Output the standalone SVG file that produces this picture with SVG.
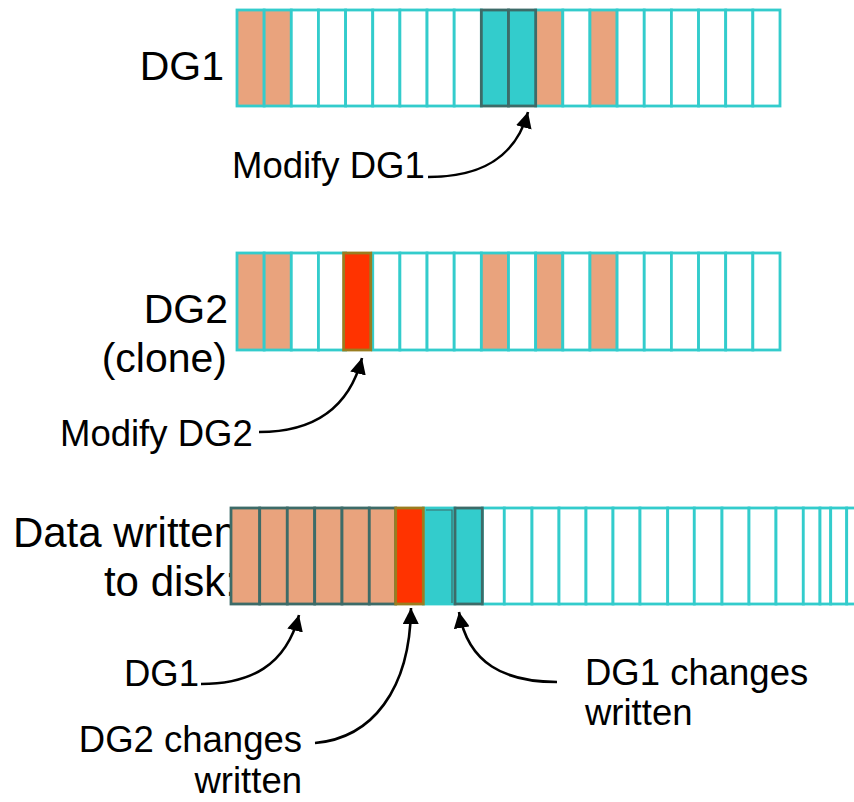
<svg xmlns="http://www.w3.org/2000/svg" width="854" height="802" viewBox="0 0 854 802">
  <style>
    .big { font-family: "Liberation Sans", Arial, sans-serif; font-size: 41px; fill: #000; }
    .lbl { font-family: "Liberation Sans", Arial, sans-serif; font-size: 36.5px; fill: #000; }
    .cell { fill: #ffffff; stroke: #33cccc; stroke-width: 2.8; }
    .old { fill: #e9a37d; stroke: #33cccc; stroke-width: 2.8; }
    .oldw { fill: #e9a37d; stroke: #3d6b68; stroke-width: 2.8; }
    .chg1 { fill: #33cccc; stroke: #3d6b68; stroke-width: 2.8; }
    .chg2 { fill: #ff3300; stroke: #9a7d1f; stroke-width: 2.8; }
    .conn { fill: none; stroke: #000; stroke-width: 2.6; marker-end: url(#head); }
  </style>
  <defs>
    <marker id="head" markerUnits="userSpaceOnUse" markerWidth="18" markerHeight="16" refX="16" refY="8" orient="auto">
      <path d="M0,0 L16,8 L0,16 z" fill="#000"/>
    </marker>
  </defs>

  <!-- row labels -->
  <g id="label-dg1">
    <text class="big" x="224" y="80" text-anchor="end">DG1</text>
  </g>
  <g id="label-dg2">
    <text class="big" x="228" y="323" text-anchor="end">DG2</text>
    <text class="big" x="227" y="372" text-anchor="end">(clone)</text>
  </g>
  <!-- this label sits partly behind the disk bar -->
  <g id="label-disk">
    <text class="big" x="237" y="547" text-anchor="end" style="font-size:42px">Data written</text>
    <text class="big" x="237" y="596" text-anchor="end" style="font-size:42px">to disk:</text>
  </g>

  <!-- DG1 block map -->
  <g id="bar-dg1">
    <rect class="old" x="237" y="10" width="27.15" height="96"/>
    <rect class="old" x="264.15" y="10" width="27.15" height="96"/>
    <rect class="cell" x="291.3" y="10" width="27.15" height="96"/>
    <rect class="cell" x="318.45" y="10" width="27.15" height="96"/>
    <rect class="cell" x="345.6" y="10" width="27.15" height="96"/>
    <rect class="cell" x="372.75" y="10" width="27.15" height="96"/>
    <rect class="cell" x="399.9" y="10" width="27.15" height="96"/>
    <rect class="cell" x="427.05" y="10" width="27.15" height="96"/>
    <rect class="cell" x="454.2" y="10" width="27.15" height="96"/>
    <rect class="old" x="535.65" y="10" width="27.15" height="96"/>
    <rect class="cell" x="562.8" y="10" width="27.15" height="96"/>
    <rect class="old" x="589.95" y="10" width="27.15" height="96"/>
    <rect class="cell" x="617.1" y="10" width="27.15" height="96"/>
    <rect class="cell" x="644.25" y="10" width="27.15" height="96"/>
    <rect class="cell" x="671.4" y="10" width="27.15" height="96"/>
    <rect class="cell" x="698.55" y="10" width="27.15" height="96"/>
    <rect class="cell" x="725.7" y="10" width="27.15" height="96"/>
    <rect class="cell" x="752.85" y="10" width="27.15" height="96"/>
    <rect class="chg1" x="481.35" y="10" width="27.15" height="96"/>
    <rect class="chg1" x="508.5" y="10" width="27.15" height="96"/>
  </g>

  <!-- DG2 (clone) block map -->
  <g id="bar-dg2">
    <rect class="old" x="237" y="253" width="27.15" height="97"/>
    <rect class="old" x="264.15" y="253" width="27.15" height="97"/>
    <rect class="cell" x="291.3" y="253" width="27.15" height="97"/>
    <rect class="cell" x="318.45" y="253" width="27.15" height="97"/>
    <rect class="cell" x="372.75" y="253" width="27.15" height="97"/>
    <rect class="cell" x="399.9" y="253" width="27.15" height="97"/>
    <rect class="cell" x="427.05" y="253" width="27.15" height="97"/>
    <rect class="cell" x="454.2" y="253" width="27.15" height="97"/>
    <rect class="old" x="481.35" y="253" width="27.15" height="97"/>
    <rect class="cell" x="508.5" y="253" width="27.15" height="97"/>
    <rect class="old" x="535.65" y="253" width="27.15" height="97"/>
    <rect class="cell" x="562.8" y="253" width="27.15" height="97"/>
    <rect class="old" x="589.95" y="253" width="27.15" height="97"/>
    <rect class="cell" x="617.1" y="253" width="27.15" height="97"/>
    <rect class="cell" x="644.25" y="253" width="27.15" height="97"/>
    <rect class="cell" x="671.4" y="253" width="27.15" height="97"/>
    <rect class="cell" x="698.55" y="253" width="27.15" height="97"/>
    <rect class="cell" x="725.7" y="253" width="27.15" height="97"/>
    <rect class="cell" x="752.85" y="253" width="27.15" height="97"/>
    <rect class="chg2" x="343.6" y="253" width="27.15" height="97"/>
  </g>

  <!-- disk layout -->
  <g id="bar-disk">
    <rect class="cell" x="482.3" y="508" width="22" height="96"/>
    <rect class="cell" x="504.3" y="508" width="27.7" height="96"/>
    <rect class="cell" x="532" y="508" width="27" height="96"/>
    <rect class="cell" x="559" y="508" width="27" height="96"/>
    <rect class="cell" x="586" y="508" width="27" height="96"/>
    <rect class="cell" x="613" y="508" width="27" height="96"/>
    <rect class="cell" x="640" y="508" width="27.7" height="96"/>
    <rect class="cell" x="667.7" y="508" width="26.6" height="96"/>
    <rect class="cell" x="694.3" y="508" width="27.7" height="96"/>
    <rect class="cell" x="722" y="508" width="27" height="96"/>
    <rect class="cell" x="749" y="508" width="27" height="96"/>
    <rect class="cell" x="776" y="508" width="27.3" height="96"/>
    <rect class="cell" x="803.3" y="508" width="16.7" height="96"/>
    <rect class="cell" x="820" y="508" width="10.7" height="96"/>
    <rect class="cell" x="830.7" y="508" width="16" height="96"/>
    <rect class="cell" x="846.7" y="508" width="20" height="96"/>
    <rect class="oldw" x="231" y="508" width="28.7" height="96"/>
    <rect class="oldw" x="259.7" y="508" width="27.6" height="96"/>
    <rect class="oldw" x="287.3" y="508" width="27.4" height="96"/>
    <rect class="oldw" x="314.7" y="508" width="27.3" height="96"/>
    <rect class="oldw" x="342" y="508" width="27.3" height="96"/>
    <rect class="oldw" x="369.3" y="508" width="26.4" height="96"/>
    <rect x="423.3" y="508" width="31.7" height="96" fill="#33cccc" stroke="#33cccc" stroke-width="2.8"/>
    <path d="M426 510 H452 V603" fill="none" stroke="#3d6b68" stroke-width="1.2"/>
    <rect class="chg1" x="455" y="508" width="27.3" height="96"/>
    <rect class="chg2" x="395.7" y="508" width="27.6" height="96"/>
  </g>

  <!-- callout labels -->
  <g id="note-modify-dg1">
    <text class="lbl" x="232" y="178">Modify DG1</text>
  </g>
  <g id="note-modify-dg2">
    <text class="lbl" x="60" y="446">Modify DG2</text>
  </g>
  <g id="note-disk-dg1">
    <text class="lbl" x="124" y="686">DG1</text>
  </g>
  <g id="note-dg2-changes">
    <text class="lbl" x="302" y="752" text-anchor="end">DG2 changes</text>
    <text class="lbl" x="302" y="793" text-anchor="end">written</text>
  </g>
  <g id="note-dg1-changes">
    <text class="lbl" x="585" y="685">DG1 changes</text>
    <text class="lbl" x="585" y="725">written</text>
  </g>

  <!-- connectors -->
  <g id="connectors">
    <path class="conn" d="M428 177 C478 177 515 160 528 112"/>
    <path class="conn" d="M259 432 C310 432 348 412 362 358"/>
    <path class="conn" d="M201 684 C250 684 286 666 299 615"/>
    <path class="conn" d="M315 743 C372 738 410 690 411 608"/>
    <path class="conn" d="M557 682 C505 682 468 664 459 612"/>
  </g>
</svg>
